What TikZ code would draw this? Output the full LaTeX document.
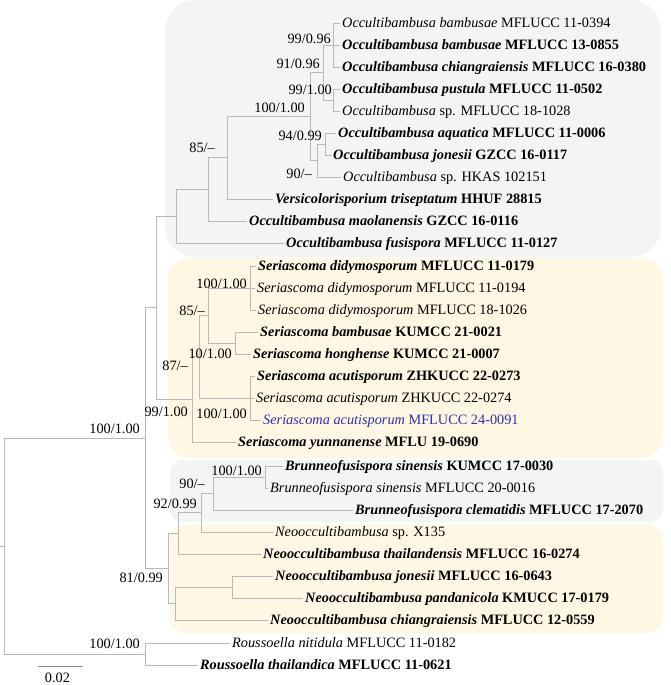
\documentclass[tikz,border=0pt]{standalone}
\usepackage{fontspec}
\setmainfont{Liberation Serif}
\definecolor{boxgrey}{RGB}{243,245,245}
\definecolor{boxyellow}{RGB}{254,247,227}
\definecolor{branch}{RGB}{185,185,185}
\definecolor{newblue}{RGB}{48,48,175}
\tikzset{
  br/.style={draw=branch, line width=0.8pt},
  leaf/.style={anchor=west, inner xsep=2.5pt, inner ysep=0pt, text height=11pt, text depth=2pt, font=\fontsize{14.3}{16}\selectfont},
  bsup/.style={anchor=base east, inner sep=0pt, font=\fontsize{14.3}{16}\selectfont},
}
\newcommand{\bl}[2]{\textbf{\textit{#1} #2}}
\begin{document}
\begin{tikzpicture}[x=1pt,y=-1pt]
\useasboundingbox (0,0) rectangle (671,685);
\fill[white] (0,0) rectangle (671,685);
% clade boxes
\fill[boxgrey, rounded corners=30pt] (165,0) rectangle (661,257);
\fill[boxyellow, rounded corners=22pt] (168,258) rectangle (663,458);
\fill[boxgrey, rounded corners=12pt] (170,460) rectangle (663,522);
\fill[boxyellow, rounded corners=16pt] (170,525) rectangle (663,633);

% leaves
\node[leaf] (L1) at (339.5,23) {\textit{Occultibambusa bambusae} MFLUCC 11-0394};
\node[leaf] (L2) at (339.5,45) {\bl{Occultibambusa bambusae}{MFLUCC 13-0855}};
\node[leaf] (L3) at (339.5,67) {\bl{Occultibambusa chiangraiensis}{MFLUCC 16-0380}};
\node[leaf] (L4) at (339.5,89) {\bl{Occultibambusa pustula}{MFLUCC 11-0502}};
\node[leaf] (L5) at (339.5,111) {\textit{Occultibambusa} sp. MFLUCC 18-1028};
\node[leaf] (L6) at (335.5,133) {\bl{Occultibambusa aquatica}{MFLUCC 11-0006}};
\node[leaf] (L7) at (330.5,155) {\bl{Occultibambusa jonesii}{GZCC 16-0117}};
\node[leaf] (L8) at (340.5,177) {\textit{Occultibambusa} sp. HKAS 102151};
\node[leaf] (L9) at (272.5,199) {\bl{Versicolorisporium triseptatum}{HHUF 28815}};
\node[leaf] (L10) at (246.5,221) {\bl{Occultibambusa maolanensis}{GZCC 16-0116}};
\node[leaf] (L11) at (283.5,243) {\bl{Occultibambusa fusispora}{MFLUCC 11-0127}};
\node[leaf] (L12) at (255.5,266) {\bl{Seriascoma didymosporum}{MFLUCC 11-0179}};
\node[leaf] (L13) at (254.5,288) {\textit{Seriascoma didymosporum} MFLUCC 11-0194};
\node[leaf] (L14) at (255.5,310) {\textit{Seriascoma didymosporum} MFLUCC 18-1026};
\node[leaf] (L15) at (257.5,332) {\bl{Seriascoma bambusae}{KUMCC 21-0021}};
\node[leaf] (L16) at (250.5,354) {\bl{Seriascoma honghense}{KUMCC 21-0007}};
\node[leaf] (L17) at (254.5,376) {\bl{Seriascoma acutisporum}{ZHKUCC 22-0273}};
\node[leaf] (L18) at (253.5,398) {\textit{Seriascoma acutisporum} ZHKUCC 22-0274};
\node[leaf, text=newblue] (L19) at (260.5,420) {\textit{Seriascoma acutisporum} MFLUCC 24-0091};
\node[leaf] (L20) at (235.5,442) {\bl{Seriascoma yunnanense}{MFLU 19-0690}};
\node[leaf] (L21) at (282.5,466) {\bl{Brunneofusispora sinensis}{KUMCC 17-0030}};
\node[leaf] (L22) at (267.5,488) {\textit{Brunneofusispora sinensis} MFLUCC 20-0016};
\node[leaf] (L23) at (352.5,510) {\bl{Brunneofusispora clematidis}{MFLUCC 17-2070}};
\node[leaf] (L24) at (272.5,532) {\textit{Neooccultibambusa} sp. X135};
\node[leaf] (L25) at (260.5,554) {\bl{Neooccultibambusa thailandensis}{MFLUCC 16-0274}};
\node[leaf] (L26) at (272.5,576) {\bl{Neooccultibambusa jonesii}{MFLUCC 16-0643}};
\node[leaf] (L27) at (302.5,598) {\bl{Neooccultibambusa pandanicola}{KMUCC 17-0179}};
\node[leaf] (L28) at (267.5,620) {\bl{Neooccultibambusa chiangraiensis}{MFLUCC 12-0559}};
\node[leaf] (L29) at (229.5,643) {\textit{Roussoella nitidula} MFLUCC 11-0182};
\node[leaf] (L30) at (197.5,665) {\bl{Roussoella thailandica}{MFLUCC 11-0621}};

% internal nodes
\coordinate (Na) at (333,45);
\coordinate (Nb) at (333,100);
\coordinate (Nc) at (323,72.5);
\coordinate (Nd) at (325,144);
\coordinate (Ne) at (317,160.5);
\coordinate (Nf) at (310,116.5);
\coordinate (Ng) at (227,157.75);
\coordinate (Nh) at (208,189.4);
\coordinate (Ni) at (176,216.2);
\coordinate (Sa) at (250,288);
\coordinate (Sb) at (235,343);
\coordinate (Sc) at (208,315.5);
\coordinate (Sd) at (250,398);
\coordinate (Se) at (199,356.75);
\coordinate (Sf) at (192,399.4);
\coordinate (T1) at (156,307.8);
\coordinate (Ba) at (265,477);
\coordinate (Bb) at (213,493.5);
\coordinate (Bc) at (201,512.75);
\coordinate (Bd) at (178,533.4);
\coordinate (Ma) at (232,587);
\coordinate (Mb) at (175,603.5);
\coordinate (Be) at (168,568.4);
\coordinate (T2) at (145,438.1);
\coordinate (R) at (145,654);
\coordinate (Root) at (4,546);
\coordinate (stub) at (0,546);

% branches
\draw[br] (Na) |- (L1.west);
\draw[br] (Na) |- (L2.west);
\draw[br] (Na) |- (L3.west);
\draw[br] (Nb) |- (L4.west);
\draw[br] (Nb) |- (L5.west);
\draw[br] (Nc) |- (Na);
\draw[br] (Nc) |- (Nb);
\draw[br] (Nd) |- (L6.west);
\draw[br] (Nd) |- (L7.west);
\draw[br] (Ne) |- (Nd);
\draw[br] (Ne) |- (L8.west);
\draw[br] (Nf) |- (Nc);
\draw[br] (Nf) |- (Ne);
\draw[br] (Ng) |- (Nf);
\draw[br] (Ng) |- (L9.west);
\draw[br] (Nh) |- (Ng);
\draw[br] (Nh) |- (L10.west);
\draw[br] (Ni) |- (Nh);
\draw[br] (Ni) |- (L11.west);
\draw[br] (Sa) |- (L12.west);
\draw[br] (Sa) |- (L13.west);
\draw[br] (Sa) |- (L14.west);
\draw[br] (Sb) |- (L15.west);
\draw[br] (Sb) |- (L16.west);
\draw[br] (Sc) |- (Sa);
\draw[br] (Sc) |- (Sb);
\draw[br] (Sd) |- (L17.west);
\draw[br] (Sd) |- (L18.west);
\draw[br] (Sd) |- (L19.west);
\draw[br] (Se) |- (Sc);
\draw[br] (Se) |- (Sd);
\draw[br] (Sf) |- (Se);
\draw[br] (Sf) |- (L20.west);
\draw[br] (T1) |- (Ni);
\draw[br] (T1) |- (Sf);
\draw[br] (Ba) |- (L21.west);
\draw[br] (Ba) |- (L22.west);
\draw[br] (Bb) |- (Ba);
\draw[br] (Bb) |- (L23.west);
\draw[br] (Bc) |- (Bb);
\draw[br] (Bc) |- (L24.west);
\draw[br] (Bd) |- (Bc);
\draw[br] (Bd) |- (L25.west);
\draw[br] (Ma) |- (L26.west);
\draw[br] (Ma) |- (L27.west);
\draw[br] (Mb) |- (Ma);
\draw[br] (Mb) |- (L28.west);
\draw[br] (Be) |- (Bd);
\draw[br] (Be) |- (Mb);
\draw[br] (T2) |- (T1);
\draw[br] (T2) |- (Be);
\draw[br] (R) |- (L29.west);
\draw[br] (R) |- (L30.west);
\draw[br] (Root) |- (T2);
\draw[br] (Root) |- (R);
\draw[br] (stub) -- (Root);

% support values
\node[bsup] (s1) at (331,44) {99/0.96};
\node[bsup] (s2) at (320,69) {91/0.96};
\node[bsup] (s3) at (332,94) {99/1.00};
\node[bsup] (s4) at (305,112) {100/1.00};
\node[bsup] (s5) at (322,140) {94/0.99};
\node[bsup] (s6) at (312,178) {90/–};
\node[bsup] (s7) at (215,152) {85/–};
\node[bsup] (s8) at (247,288) {100/1.00};
\node[bsup] (s9) at (205,315) {85/–};
\node[bsup] (s10) at (232,358) {10/1.00};
\node[bsup] (s11) at (188,370) {87/–};
\node[bsup] (s12) at (188,416) {99/1.00};
\node[bsup] (s13) at (247,418) {100/1.00};
\node[bsup] (s14) at (140,433) {100/1.00};
\node[bsup] (s15) at (262,475) {100/1.00};
\node[bsup] (s16) at (205,488) {90/–};
\node[bsup] (s17) at (197,508) {92/0.99};
\node[bsup] (s18) at (163,582) {81/0.99};
\node[bsup] (s19) at (140,648) {100/1.00};

% scale bar
\coordinate (sb1) at (38,666);
\coordinate (sb2) at (83,666);
\draw[br, draw=black!45] (sb1) -- (sb2);
\node[anchor=base, inner sep=0pt, font=\fontsize{14.3}{16}\selectfont] (sbl) at (57.5,682) {0.02};
\end{tikzpicture}
\end{document}
